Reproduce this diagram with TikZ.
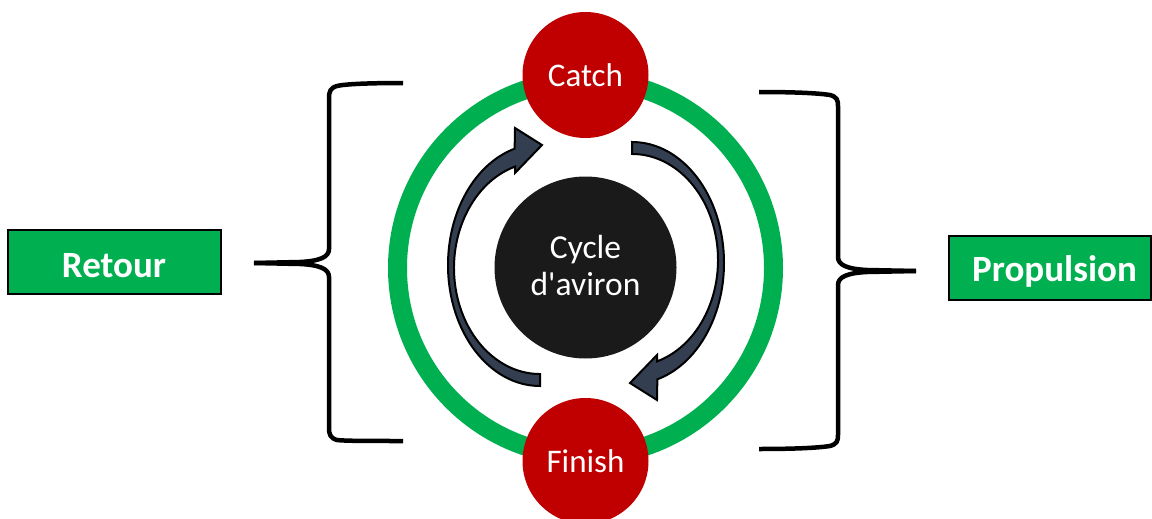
\documentclass[tikz,border=0pt]{standalone}
\usepackage{fontspec}
\setmainfont{Carlito}[Ligatures=TeXOff]
\definecolor{ringgreen}{HTML}{00B050}
\definecolor{phasered}{HTML}{C00000}
\definecolor{coreblack}{HTML}{1A1A1A}
\definecolor{arrowfill}{HTML}{333F50}
\tikzset{
  phase/.style={circle, fill=phasered, draw=none, minimum size=126pt, inner sep=0pt, text=white, font=\fontsize{33}{37}\selectfont},
  core/.style={circle, fill=coreblack, draw=none, minimum size=182pt, inner sep=0pt},
  coretxt/.style={anchor=base, inner sep=0pt, text=white, font=\fontsize{33.5}{37}\selectfont},
  labelbox/.style={rectangle, fill=ringgreen, draw=black, line width=1.3pt, inner sep=0pt},
  labeltxt/.style={anchor=base, inner sep=0pt, text=white, font=\fontsize{37}{40}\selectfont\bfseries},
  bracesty/.style={draw=black, line width=4.5pt, line cap=butt, line join=round},
  cyclearrow/.style={fill=arrowfill, draw=black, line width=2pt, line join=miter}
}
\begin{document}
\begin{tikzpicture}[x=1pt, y=-1pt]
\useasboundingbox (0,0) rectangle (1152,519);
\clip (0,0) rectangle (1152,519);
% ring
\draw[ringgreen, line width=19pt] (585.5,268) circle[radius=188];
% phases
\node[phase] (catch) at (585.5,75) {Catch};
\node[phase] (finish) at (585.5,461) {Finish};
% core
\node[core] (core) at (585.5,267.5) {};
\node[coretxt] (core1) at (585.5,258) {Cycle};
\node[coretxt] (core2) at (585.5,295) {d'aviron};
% arrows
\path[cyclearrow] (540,386) arc[start angle=90, end angle=254, x radius=92, y radius=121]
  -- (515,128) -- (542,145) -- (515,173) -- (515,166.6)
  arc[start angle=253.1, end angle=90, x radius=86, y radius=106] -- cycle;
\begin{scope}[rotate around={180:(586,264)}]
\path[cyclearrow] (540,386) arc[start angle=90, end angle=254, x radius=92, y radius=121]
  -- (515,128) -- (542,145) -- (515,173) -- (515,166.6)
  arc[start angle=253.1, end angle=90, x radius=86, y radius=106] -- cycle;
\end{scope}
% left brace
\draw[bracesty] (403,83) .. controls (370,83) and (345,84) .. (337,86)
  .. controls (330,88) and (329,92) .. (329,98) -- (329,249)
  .. controls (329,257) and (320,261) .. (300,262) -- (254,263);
\draw[bracesty] (254,263) -- (300,264)
  .. controls (320,265) and (329,269) .. (329,277) -- (329,428)
  .. controls (329,434) and (330,438) .. (337,440)
  .. controls (345,441) and (370,441) .. (403,441);
% right brace
\draw[bracesty] (759,92) .. controls (792,92) and (817,93) .. (830,95)
  .. controls (837,97) and (838,100) .. (838,106) -- (838,257)
  .. controls (838,265) and (847,269) .. (867,270) -- (916,271);
\draw[bracesty] (916,271) -- (867,272)
  .. controls (847,273) and (838,277) .. (838,285) -- (838,435)
  .. controls (838,441) and (837,444) .. (830,446)
  .. controls (817,448) and (792,449) .. (759,449);
% labels
\node[labelbox, minimum width=213pt, minimum height=64pt] (retour) at (114.5,262) {};
\node[labeltxt] (retourtxt) at (114,277) {Retour};
\node[labelbox, minimum width=202pt, minimum height=64pt] (propulsion) at (1050,268) {};
\node[labeltxt] (propulsiontxt) at (1054.5,281) {Propulsion};
\end{tikzpicture}
\end{document}
